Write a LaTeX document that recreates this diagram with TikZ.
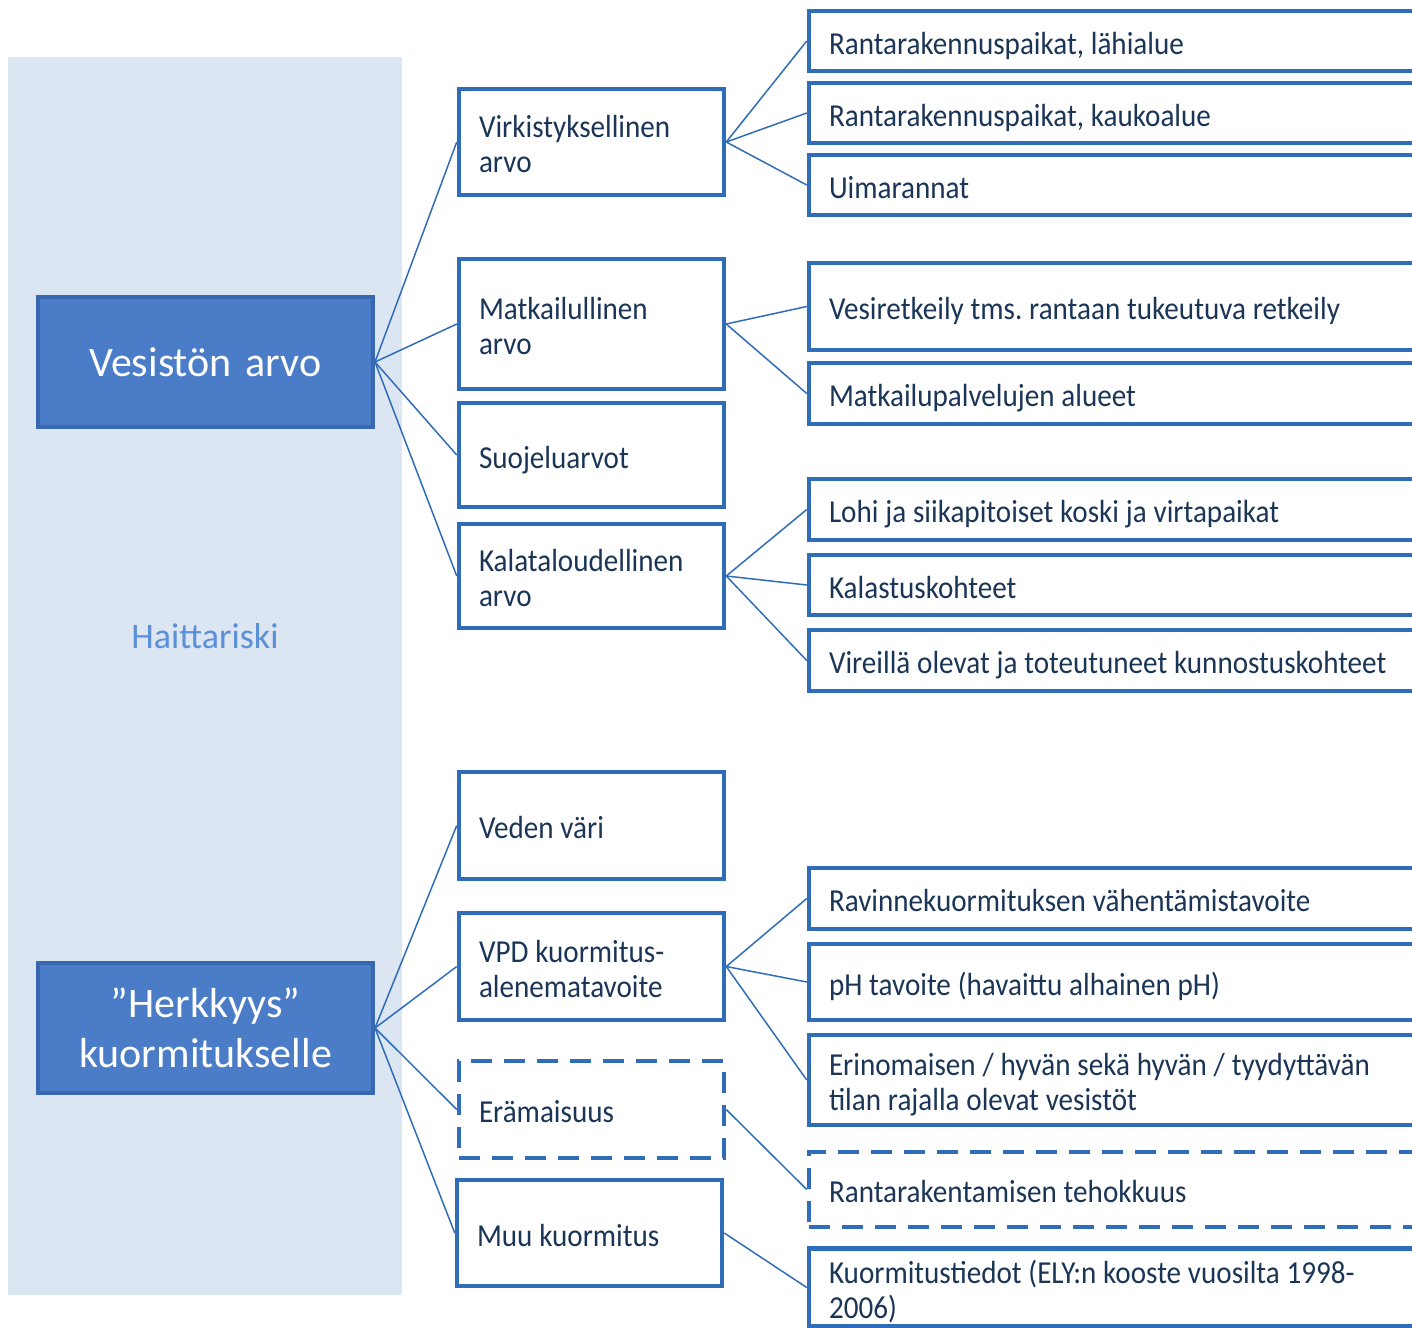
\documentclass[tikz,border=0pt]{standalone}
\usepackage{fontspec}
\setmainfont{Carlito}
\newfontfamily\boxfont[FakeStretch=0.91]{Carlito}
\frenchspacing
\definecolor{bdr}{HTML}{2F6DB8}
\definecolor{bigfill}{HTML}{4A7CC8}
\definecolor{bigbdr}{HTML}{3868B0}
\definecolor{bgc}{HTML}{DCE6F2}
\definecolor{txt}{HTML}{1B3557}
\definecolor{hait}{HTML}{5B8FD8}
\begin{document}
\begin{tikzpicture}[x=1pt,y=-1pt,
  boxtext/.style={draw=bdr, line width=4.5, fill=white, inner ysep=0, align=left, text=txt,
    font=\boxfont\fontsize{32}{35}\selectfont,
    execute at begin node={\spaceskip=6.8pt plus 1.6pt minus 1pt\relax\rule{0pt}{34.6pt}},
    execute at end node={\rule[-8pt]{0pt}{8pt}}},
  mid/.style={boxtext, minimum width=265, text width=225, inner xsep=20},
  rb/.style={boxtext, minimum width=631, text width=591, inner xsep=20},
  big/.style={draw=bigbdr, line width=4, fill=bigfill, minimum width=335, minimum height=130, text width=315, inner xsep=10, align=center, text=white, font=\fontsize{42}{50}\selectfont},
  dsh/.style={dash pattern=on 21 off 12},
  conn/.style={draw=bdr, line width=1.5}]
\useasboundingbox (0,0) rectangle (1412,1327);
\clip (0,0) rectangle (1412,1327);
\fill[bgc] (8,57) rectangle (402,1295);
\node[big] (ves) at (205.5,362) {Vesistön arvo};
\node[big] (her) at (205.5,1028) {”Herkkyys”\\kuormitukselle};
\node[text=hait, font=\fontsize{36}{40}\selectfont] (hai) at (205,636) {Haittariski};
% middle column
\node[mid, minimum height=106] (vir) at (591.5,142) {Virkistyksellinen\\arvo};
\node[mid, minimum height=130] (mat) at (591.5,324) {Matkailullinen\\arvo};
\node[mid, minimum height=104] (suo) at (591.5,455) {Suojeluarvot};
\node[mid, minimum height=104] (kal) at (591.5,576) {Kalataloudellinen\\arvo};
\node[mid, minimum height=107] (ved) at (591.5,825.5) {Veden väri};
\node[mid, minimum height=107] (vpd) at (591.5,966.5) {VPD kuormitus-\\alenematavoite};
\node[mid, dsh, minimum height=97] (era) at (591.5,1109.5) {Erämaisuus};
\node[mid, minimum height=106] (muu) at (589.5,1233) {Muu kuormitus};
% right column
\node[rb, minimum height=60] (r1) at (1124.5,41) {Rantarakennuspaikat, lähialue};
\node[rb, minimum height=60] (r2) at (1124.5,113) {Rantarakennuspaikat, kaukoalue};
\node[rb, minimum height=60] (r3) at (1124.5,185) {Uimarannat};
\node[rb, minimum height=87] (r4) at (1124.5,306.5) {Vesiretkeily tms. rantaan tukeutuva retkeily};
\node[rb, minimum height=61] (r5) at (1124.5,393.5) {Matkailupalvelujen alueet};
\node[rb, minimum height=61] (r6) at (1124.5,509.5) {Lohi ja siikapitoiset koski ja virtapaikat};
\node[rb, minimum height=60] (r7) at (1124.5,585) {Kalastuskohteet};
\node[rb, minimum height=61] (r8) at (1124.5,660.5) {Vireillä olevat ja toteutuneet kunnostuskohteet};
\node[rb, minimum height=61] (r9) at (1124.5,898.5) {Ravinnekuormituksen vähentämistavoite};
\node[rb, minimum height=76] (r10) at (1124.5,982) {pH tavoite (havaittu alhainen pH)};
\node[rb, minimum height=90] (r11) at (1124.5,1080) {Erinomaisen / hyvän sekä hyvän / tyydyttävän\\tilan rajalla olevat vesistöt};
\node[rb, dsh, minimum height=75] (r12) at (1124.5,1189.5) {Rantarakentamisen tehokkuus};
\node[rb, minimum height=75] (r13) at (1124.5,1287.5) {Kuormitustiedot (ELY:n kooste vuosilta 1998-\\2006)};
% connectors
\foreach \t in {vir,mat,suo,kal} \draw[conn] (ves.east) -- (\t.west);
\foreach \t in {ved,vpd,era,muu} \draw[conn] (her.east) -- (\t.west);
\foreach \t in {r1,r2,r3} \draw[conn] (vir.east) -- (\t.west);
\foreach \t in {r4,r5} \draw[conn] (mat.east) -- (\t.west);
\foreach \t in {r6,r7,r8} \draw[conn] (kal.east) -- (\t.west);
\foreach \t in {r9,r10,r11} \draw[conn] (vpd.east) -- (\t.west);
\draw[conn] (era.east) -- (r12.west);
\draw[conn] (muu.east) -- (r13.west);
\end{tikzpicture}
\end{document}
